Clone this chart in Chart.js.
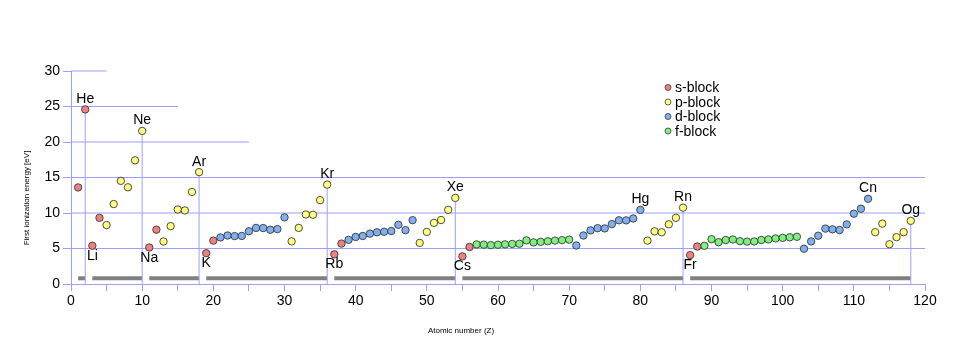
<!DOCTYPE html>
<html>
<head>
<meta charset="utf-8">
<script src="https://cdn.jsdelivr.net/npm/chart.js@4"></script>
<style>
  html, body { margin: 0; padding: 0; background: #fff; }
  #wrap { width: 960px; height: 356px; }
</style>
</head>
<body>
<div id="wrap"><canvas id="ieChart" width="960" height="356"></canvas></div>
<script>
// first ionization energy [eV], Z = 1 .. 118
const ionization = [
  13.60, 24.59,
  5.39, 9.32, 8.30, 11.26, 14.53, 13.62, 17.42, 21.56,
  5.14, 7.65, 5.99, 8.15, 10.49, 10.36, 12.97, 15.76,
  4.34, 6.11, 6.56, 6.83, 6.75, 6.77, 7.43, 7.90, 7.88, 7.64, 7.73, 9.39, 6.00, 7.90, 9.79, 9.75, 11.81, 14.00,
  4.18, 5.69, 6.22, 6.63, 6.76, 7.09, 7.28, 7.36, 7.46, 8.34, 7.58, 8.99, 5.79, 7.34, 8.61, 9.01, 10.45, 12.13,
  3.89, 5.21, 5.58, 5.54, 5.47, 5.53, 5.58, 5.64, 5.67, 6.15, 5.86, 5.94, 6.02, 6.11, 6.18, 6.25,
  5.43, 6.83, 7.55, 7.86, 7.83, 8.44, 8.97, 8.96, 9.23, 10.44, 6.11, 7.42, 7.29, 8.41, 9.32, 10.75,
  4.07, 5.28, 5.38, 6.31, 5.89, 6.19, 6.27, 6.03, 5.97, 5.99, 6.20, 6.28, 6.42, 6.50, 6.58, 6.65,
  4.96, 6.0, 6.8, 7.8, 7.7, 7.6, 8.4, 9.9, 10.6, 12.0, 7.3, 8.5, 5.6, 6.6, 7.3, 8.9
];

// block of each element, period by period
const blocks = (
  "ss" +
  "sspppppp" +
  "sspppppp" +
  "ssddddddddddpppppp" +
  "ssddddddddddpppppp" +
  "ssffffffffffffffddddddddddpppppp" +
  "ssffffffffffffffddddddddddpppppp"
).split("");

const blockNames = ["s-block", "p-block", "d-block", "f-block"];
const blockKeys = ["s", "p", "d", "f"];
const blockColors = ["#f08080", "#ffff80", "#80b0f0", "#80f080"];

const aboveSymbols = ["He", "Ne", "Ar", "Kr", "Xe", "Hg", "Rn", "Cn", "Og"];
const aboveZ = [2, 10, 18, 36, 54, 80, 86, 112, 118];
const belowSymbols = ["Li", "Na", "K", "Rb", "Cs", "Fr"];
const belowZ = [3, 11, 19, 37, 55, 87];

const nobleZ = [2, 10, 18, 36, 54, 86, 118];
const periodStart = [1, 3, 11, 19, 37, 55, 87];
const periodEnd = [2, 10, 18, 36, 54, 86, 118];
const periodBarY = 0.8;

const gridLevels = [5, 10, 15, 20, 25, 30];
const gridEnds = [120, 120, 120, 25, 15, 5];

const xTicks = [0, 10, 20, 30, 40, 50, 60, 70, 80, 90, 100, 110, 120];
const yTicks = [0, 5, 10, 15, 20, 25, 30];

const lav = "#9e9eff";
const font = "'Liberation Sans', Arial, sans-serif";

// point datasets
const datasets = blockKeys.map((k, bi) => ({
  type: "scatter",
  label: blockNames[bi],
  data: ionization.map((v, i) => ({ x: i + 1, y: v })).filter((p, i) => blocks[i] === k),
  backgroundColor: blockColors[bi],
  borderColor: "#3a3a3a",
  borderWidth: 0.9,
  pointRadius: 3.7,
  order: 1,
  clip: false
}));

function seg(data, color, width) {
  return { type: "line", data, borderColor: color, borderWidth: width, pointRadius: 0,
           fill: false, order: 5, clip: false, borderCapStyle: "butt" };
}

// partial grid lines
gridLevels.forEach((lv, i) => datasets.push(seg([{ x: 0, y: lv }, { x: gridEnds[i], y: lv }], lav, 1)));
// noble gas drop lines
nobleZ.forEach(z => datasets.push(seg([{ x: z, y: 0 }, { x: z, y: ionization[z - 1] }], lav, 1)));
// period bars
periodStart.forEach((s, i) => datasets.push(seg([{ x: s, y: periodBarY }, { x: periodEnd[i], y: periodBarY }], "#808080", 4)));

const extras = {
  id: "extras",
  afterDatasetsDraw(chart) {
    const { ctx, scales: { x, y } } = chart;
    ctx.save();
    ctx.fillStyle = "#000";
    ctx.font = "14px " + font;
    ctx.textAlign = "center";
    ctx.textBaseline = "alphabetic";
    aboveSymbols.forEach((s, i) => {
      const z = aboveZ[i];
      ctx.fillText(s, x.getPixelForValue(z), y.getPixelForValue(ionization[z - 1]) - 6.5);
    });
    belowSymbols.forEach((s, i) => {
      const z = belowZ[i];
      ctx.fillText(s, x.getPixelForValue(z), y.getPixelForValue(ionization[z - 1]) + 14);
    });

    // legend
    ctx.textAlign = "left";
    ctx.textBaseline = "middle";
    blockNames.forEach((name, i) => {
      const ly = 87.5 + i * 14.5;
      ctx.beginPath();
      ctx.arc(668, ly, 3, 0, Math.PI * 2);
      ctx.fillStyle = blockColors[i];
      ctx.fill();
      ctx.lineWidth = 0.8;
      ctx.strokeStyle = "#3a3a3a";
      ctx.stroke();
      ctx.fillStyle = "#000";
      ctx.fillText(name, 675, ly + 1);
    });

    // axis titles
    ctx.font = "8px " + font;
    ctx.textAlign = "center";
    ctx.fillText("Atomic number (Z)", 461, 331);
    ctx.translate(27, 198);
    ctx.rotate(-Math.PI / 2);
    ctx.fillText("First ionization energy [eV]", 0, 0);
    ctx.restore();
  }
};

new Chart(document.getElementById("ieChart"), {
  type: "scatter",
  data: { datasets },
  plugins: [extras],
  options: {
    responsive: false,
    animation: false,
    layout: { padding: { left: 0, right: 35, top: 71, bottom: 0 } },
    plugins: { legend: { display: false }, tooltip: { enabled: false } },
    scales: {
      x: {
        type: "linear", min: 0, max: 120,
        afterFit(s) { s.height = 72; },
        afterBuildTicks(s) { s.ticks = xTicks.concat([5, 15, 25, 35, 45, 55, 65, 75, 85, 95, 105, 115]).sort((a, b) => a - b).map(v => ({ value: v })); },
        ticks: {
          color: "#000", font: { family: font, size: 14 }, padding: 2, maxRotation: 0, autoSkip: false,
          callback: v => (xTicks.includes(v) ? String(v) : "")
        },
        grid: { display: true, drawOnChartArea: false, drawTicks: true, tickLength: 7, color: lav },
        border: { display: true, color: lav }
      },
      y: {
        type: "linear", min: 0, max: 30,
        afterFit(s) { s.width = 71; },
        afterBuildTicks(s) { s.ticks = yTicks.map(v => ({ value: v })); },
        ticks: { color: "#000", font: { family: font, size: 14 }, padding: 3 },
        grid: { display: true, drawOnChartArea: false, drawTicks: true, tickLength: 8, color: lav },
        border: { display: true, color: lav }
      }
    }
  }
});
</script>
</body>
</html>
